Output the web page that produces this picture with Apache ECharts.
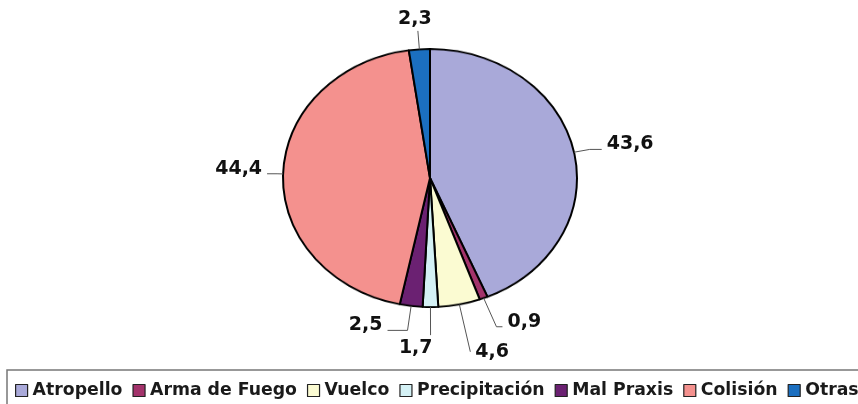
<!DOCTYPE html>
<html>
<head>
<meta charset="utf-8">
<script src="https://cdn.jsdelivr.net/npm/echarts@6/dist/echarts.min.js"></script>
<style>
  html, body { margin: 0; padding: 0; background: #fff; }
  #wrap { position: relative; width: 858px; height: 404px; overflow: hidden; }
  #pie, #labels { position: absolute; left: 0; top: 0; width: 858px; height: 404px; }
  /* the pie in the original is an ellipse: squash the sector layer only */
  #pie { transform: scaleY(0.878); transform-origin: 0 178px; }
</style>
</head>
<body>
<div id="wrap">
  <div id="pie"></div>
  <div id="labels"></div>
</div>
<script>
const categories = ['Atropello', 'Arma de Fuego', 'Vuelco', 'Precipitación', 'Mal Praxis', 'Colisión', 'Otras']
const values = [43.6, 0.9, 4.6, 1.7, 2.5, 44.4, 2.3]
const colors = ['#a9a9d9', '#a3336b', '#fbfbd2', '#d4f1f5', '#6b2172', '#f4918e', '#1b6fc0']

// leader line lengths per slice (radial part, horizontal part)
const lineLen = [16, 35, 55, 32, 28, 6, 21]
const lineLen2 = [12, 6, 0, 0, 20, 10, 0]

const CX = 430
const CY = 178
const R = 147
const SQUASH = 0.878

const fmt = v => v.toFixed(1).replace('.', ',')

// layer 1: the sectors (squashed by css)
const pieChart = echarts.init(document.getElementById('pie'))
pieChart.setOption({
  animation: false,
  color: colors,
  series: [
    {
      type: 'pie',
      center: [CX, CY],
      radius: R,
      startAngle: 90,
      avoidLabelOverlap: false,
      label: { show: false },
      labelLine: { show: false },
      emphasis: { disabled: true },
      itemStyle: { borderColor: '#000', borderWidth: 2 },
      data: categories.map((name, i) => ({ name, value: values[i] })),
    },
  ],
})

// layer 2: labels + legend, sectors invisible
const labelChart = echarts.init(document.getElementById('labels'))
labelChart.setOption({
  animation: false,
  color: colors.map(() => 'rgba(0,0,0,0)'),
  legend: {
    left: 7,
    top: 370,
    width: 900,
    icon: 'rect',
    itemWidth: 12,
    itemHeight: 12,
    itemGap: 10,
    padding: [12, 4, 30, 8],
    borderColor: '#777',
    borderWidth: 1.5,
    textStyle: {
      fontFamily: 'DejaVu Sans',
      fontWeight: 'bold',
      fontSize: 17.3,
      color: '#1a1a1a',
    },
    data: categories.map((name, i) => ({
      name,
      itemStyle: { color: colors[i], borderColor: '#222', borderWidth: 1.2, opacity: 1 },
    })),
  },
  series: [
    {
      type: 'pie',
      center: [CX, CY],
      radius: R,
      startAngle: 90,
      avoidLabelOverlap: false,
      emphasis: { disabled: true },
      itemStyle: { borderWidth: 0 },
      label: {
        show: true,
        formatter: p => fmt(p.value),
        fontFamily: 'DejaVu Sans',
        fontWeight: 'bold',
        fontSize: 19,
        color: '#111',
      },
      labelLine: {
        show: true,
        lineStyle: { color: '#555', width: 1 },
      },
      labelLayout: params => {
        const r = params.labelRect
        const mid = r.y + r.height / 2
        const pts = (params.labelLinePoints || []).map(p => [p[0], CY + (p[1] - CY) * SQUASH])
        if (pts.length < 3) return { y: CY + (mid - CY) * SQUASH }
        const end = pts[1]
        // near-vertical leaders: no elbow, label sits above / below the end
        if (Math.abs(pts[0][0] - CX) < 0.12 * R) {
          const up = end[1] < CY
          return {
            x: up ? end[0] - 3 : end[0] + 2,
            y: up ? end[1] - 2 : end[1] + 3,
            align: up ? 'center' : 'right',
            verticalAlign: up ? 'bottom' : 'top',
            labelLinePoints: [pts[0], end, end],
          }
        }
        // with an elbow the label sits a little above its leader, as in the original
        const hasElbow = Math.abs(pts[2][0] - pts[1][0]) > 1
        return {
          y: CY + (mid - CY) * SQUASH - (hasElbow ? 5 : 0),
          labelLinePoints: pts,
        }
      },
      data: categories.map((name, i) => ({
        name,
        value: values[i],
        labelLine: { length: lineLen[i], length2: lineLen2[i] },
      })),
    },
  ],
})
</script>
</body>
</html>
